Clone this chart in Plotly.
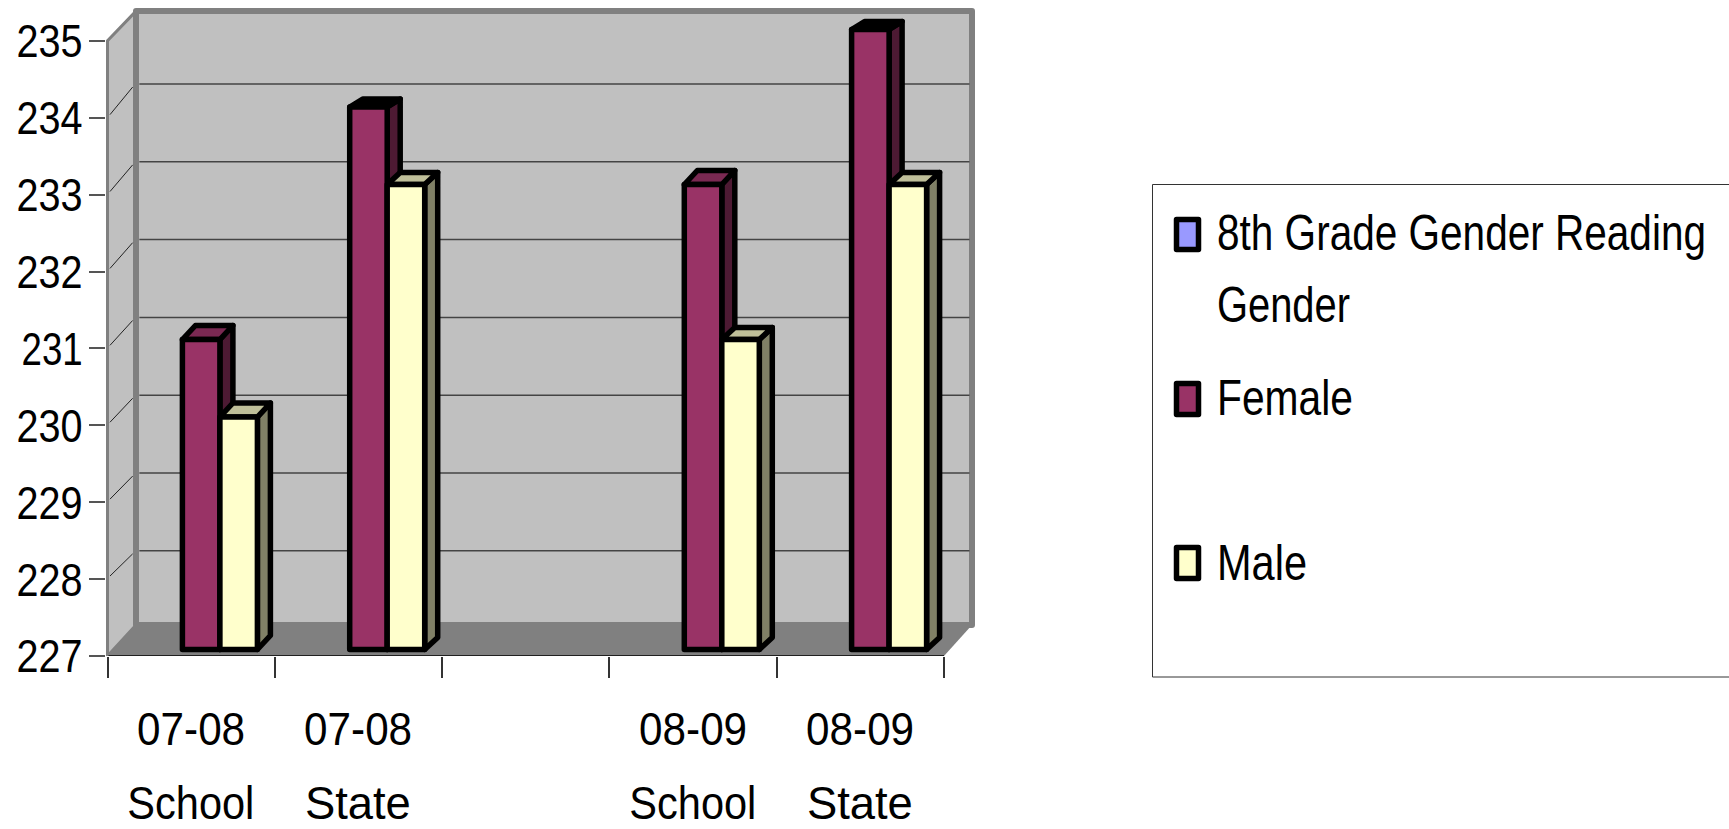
import json
import plotly.graph_objects as go

categories = ["07-08<br>School", "07-08<br>State", "", "08-09<br>School", "08-09<br>State"]
blank_name = "8th Grade Gender Reading Gender"
blank_values = [None, None, None, None, None]
female_values = [231, 234, None, 233, 235]
male_values = [230, 233, None, 231, 233]
y_ticks = [227, 228, 229, 230, 231, 232, 233, 234, 235]
legend_rows = [("8th Grade Gender Reading", 233), ("Gender", 305), ("Female", 398), ("Male", 563)]
text_widths = {"8th Grade Gender Reading": 489, "Gender": 133, "Female": 136, "Male": 90,
               "07-08": 108, "08-09": 108, "School": 127, "State": 106, "231": 61}
tick_width = 66

FONT = "Liberation Sans, Arial"
W, H = 1729, 829
L, R, T, B = 106, 982, 3, 656       # plot area, px
CAT = 167.3                         # px per category
UNIT = 76.9                         # px per unit, front plane
UNIT_B = 77.5                       # px per unit, bar plane
UNIT_W = 77.8                       # px per unit, back wall
BAR_FLOOR = 649.5                   # px of 227 in the bar plane
BASE = 227
N = len(categories)

x_rng = [-(107.5 - L) / CAT, (R - 107.5) / CAT]
y_rng = [BASE, BASE + (B - T) / UNIT]
y2_lo = BASE - (B - BAR_FLOOR) / UNIT_B
y2_rng = [y2_lo, y2_lo + (B - T) / UNIT_B]

# wall geometry in axis units
DX = 28.5 / CAT
DY = 31 / UNIT
X_END = N
X_WALL = (972 - 107.5) / CAT
TOP = y_ticks[-1]

def px(x): return (x - L) / (R - L)
def py(y): return (B - y) / (B - T)
def wall_y(v): return BASE + (B - (84 + UNIT_W * (234 - v))) / UNIT

def poly(points, fill, line=None, width=0, yref="y"):
    d = "M " + " L ".join(f"{a} {b}" for a, b in points) + " Z"
    return dict(type="path", path=d, xref="x", yref=yref, layer="below",
                fillcolor=fill, line=dict(color=line or fill, width=width))

def seg(a, b, color, width):
    return dict(type="line", xref="x", yref="y", layer="below", x0=a[0], y0=a[1], x1=b[0], y1=b[1],
                line=dict(color=color, width=width))

WALL_EDGE = "#808080"
WALL = "#c0c0c0"
WALL_TOP = TOP + 32 / UNIT - 0.03
shapes = [
    poly([(0, BASE), (DX, BASE + DY), (DX, WALL_TOP), (0, TOP)], WALL, WALL_EDGE, 3),
    poly([(DX, BASE + DY), (X_WALL, BASE + DY), (X_WALL, WALL_TOP), (DX, WALL_TOP)], WALL, WALL_EDGE, 6),
    poly([(0, BASE), (DX, BASE + DY), (X_WALL, BASE + DY), (X_END, BASE)], WALL_EDGE),
]
for v in y_ticks[1:-1]:
    shapes.append(seg((0.015, v + 0.04), (DX - 0.02, wall_y(v) - 0.04), "#222222", 1))
    shapes.append(seg((DX + 0.02, wall_y(v)), (X_WALL - 0.015, wall_y(v)), "#444444", 1.5))
shapes.append(seg((0, BASE), (X_END, BASE), "#000000", 1.5))
shapes.append(seg((0, BASE), (0, TOP), "#808080", 2))

# bars: three grouped series, the first empty
SLOT = 37.5 / CAT
SHIFT = 10 / CAT
centers = [i + 0.5 + SHIFT for i in range(N)]
DEPTH_X = 13 / CAT
EDGE = 5.5

def faces(values, series, side, top, depths):
    out = []
    for c, v, d in zip(centers, values, depths):
        if v is None:
            continue
        xr = c - 1.5 * SLOT + (series + 1) * SLOT
        xl = xr - SLOT
        dy = d / UNIT_B
        top_fill = "#000000" if d < 10 else top
        out.append(poly([(xr, BASE), (xr + DEPTH_X, BASE + dy), (xr + DEPTH_X, v + dy), (xr, v)],
                        side, "#000000", EDGE, "y2"))
        out.append(poly([(xl, v), (xl + DEPTH_X, v + dy), (xr + DEPTH_X, v + dy), (xr, v)],
                        top_fill, "#000000", EDGE, "y2"))
    return out

shapes += faces(female_values, 1, "#4d1a33", "#7a2952", [14, 8, 14, 14, 8])
shapes += faces(male_values, 2, "#808066", "#bfbf99", [14, 12, 14, 12, 12])

def bar(name, values, color):
    return go.Bar(name=name, x=centers, y=[None if v is None else v - BASE for v in values], base=BASE,
                  yaxis="y2", marker=dict(color=color, line=dict(color="#000000", width=EDGE)),
                  showlegend=False)

fig = go.Figure([
    bar(blank_name, blank_values, "#9999ff"),
    bar("Female", female_values, "#993366"),
    bar("Male", male_values, "#ffffcc"),
])

# legend box and swatches
shapes.append(dict(type="rect", xref="paper", yref="paper", x0=px(1152.5), x1=px(1740), y0=py(184.5), y1=py(677),
                   line=dict(color="#333333", width=1), fillcolor="rgba(0,0,0,0)"))
for color, (top_px, bot_px) in zip(["#9999ff", "#993366", "#ffffcc"], [(219.5, 249.5), (383.5, 414.5), (547.5, 578.5)]):
    shapes.append(dict(type="rect", xref="paper", yref="paper", x0=px(1176.5), x1=px(1198.5), y0=py(top_px), y1=py(bot_px),
                       fillcolor=color, line=dict(color="#000000", width=5.5)))

annotations = []
for text, row in legend_rows:
    annotations.append(dict(text=text, xref="paper", yref="paper", x=px(1217 + text_widths[text] / 2), y=py(row),
                            width=text_widths[text] + 4, showarrow=False, xanchor="center", yanchor="middle",
                            font=dict(family=FONT, size=50, color="#000000")))
for i, cat in enumerate(categories):
    for part, row in zip(cat.split("<br>"), [728, 803]):
        if part:
            annotations.append(dict(text=part, xref="x", yref="paper", x=i + 0.5, y=py(row), showarrow=False,
                                    xanchor="center", yanchor="middle", font=dict(family=FONT, size=47, color="#000000")))

fig.update_layout(
    width=W, height=H, autosize=False,
    margin=dict(l=L, r=W - R, t=T, b=H - B, pad=0),
    paper_bgcolor="#ffffff", plot_bgcolor="#ffffff",
    barmode="group", bargap=1 - 3 * SLOT, bargroupgap=0,
    font=dict(family=FONT, color="#000000"),
    shapes=shapes, annotations=annotations,
    xaxis=dict(range=x_rng, tickmode="array", tickvals=list(range(N + 1)), ticktext=[""] * (N + 1),
               ticks="outside", ticklen=21, tickwidth=1.5, tickcolor="#333333", automargin=False,
               showgrid=False, zeroline=False, showline=False),
    yaxis=dict(range=y_rng, tickmode="array", tickvals=y_ticks, ticktext=[str(v) for v in y_ticks],
               ticks="outside", ticklen=16, tickwidth=1.5, tickcolor="#555555", automargin=False,
               tickfont=dict(family=FONT, size=47, color="#000000"), ticklabelstandoff=-3,
               showgrid=False, zeroline=False, showline=False),
    yaxis2=dict(range=y2_rng, overlaying="y", visible=False),
)

# The reference type is condensed and no narrow face is installed: fit each text to its measured width.
post = """
document.body.style.margin='0';document.body.style.overflow='hidden';
var widths=%s, tickWidth=%d;
function fit(){
  document.querySelectorAll('.annotation-text, .ytick text').forEach(function(t){
    var s=t.textContent, w=widths[s]||(t.closest('.ytick')?tickWidth:null);
    if(w){t.setAttribute('textLength',w);t.setAttribute('lengthAdjust','spacingAndGlyphs');}
  });
  document.querySelectorAll('.shapelayer path, .bars path').forEach(function(p){p.style.strokeLinejoin='round';});
}
fit();setTimeout(fit,50);setTimeout(fit,400);
""" % (json.dumps(text_widths), tick_width)

fig.write_html("out.html", post_script=post, config={"displayModeBar": False})
